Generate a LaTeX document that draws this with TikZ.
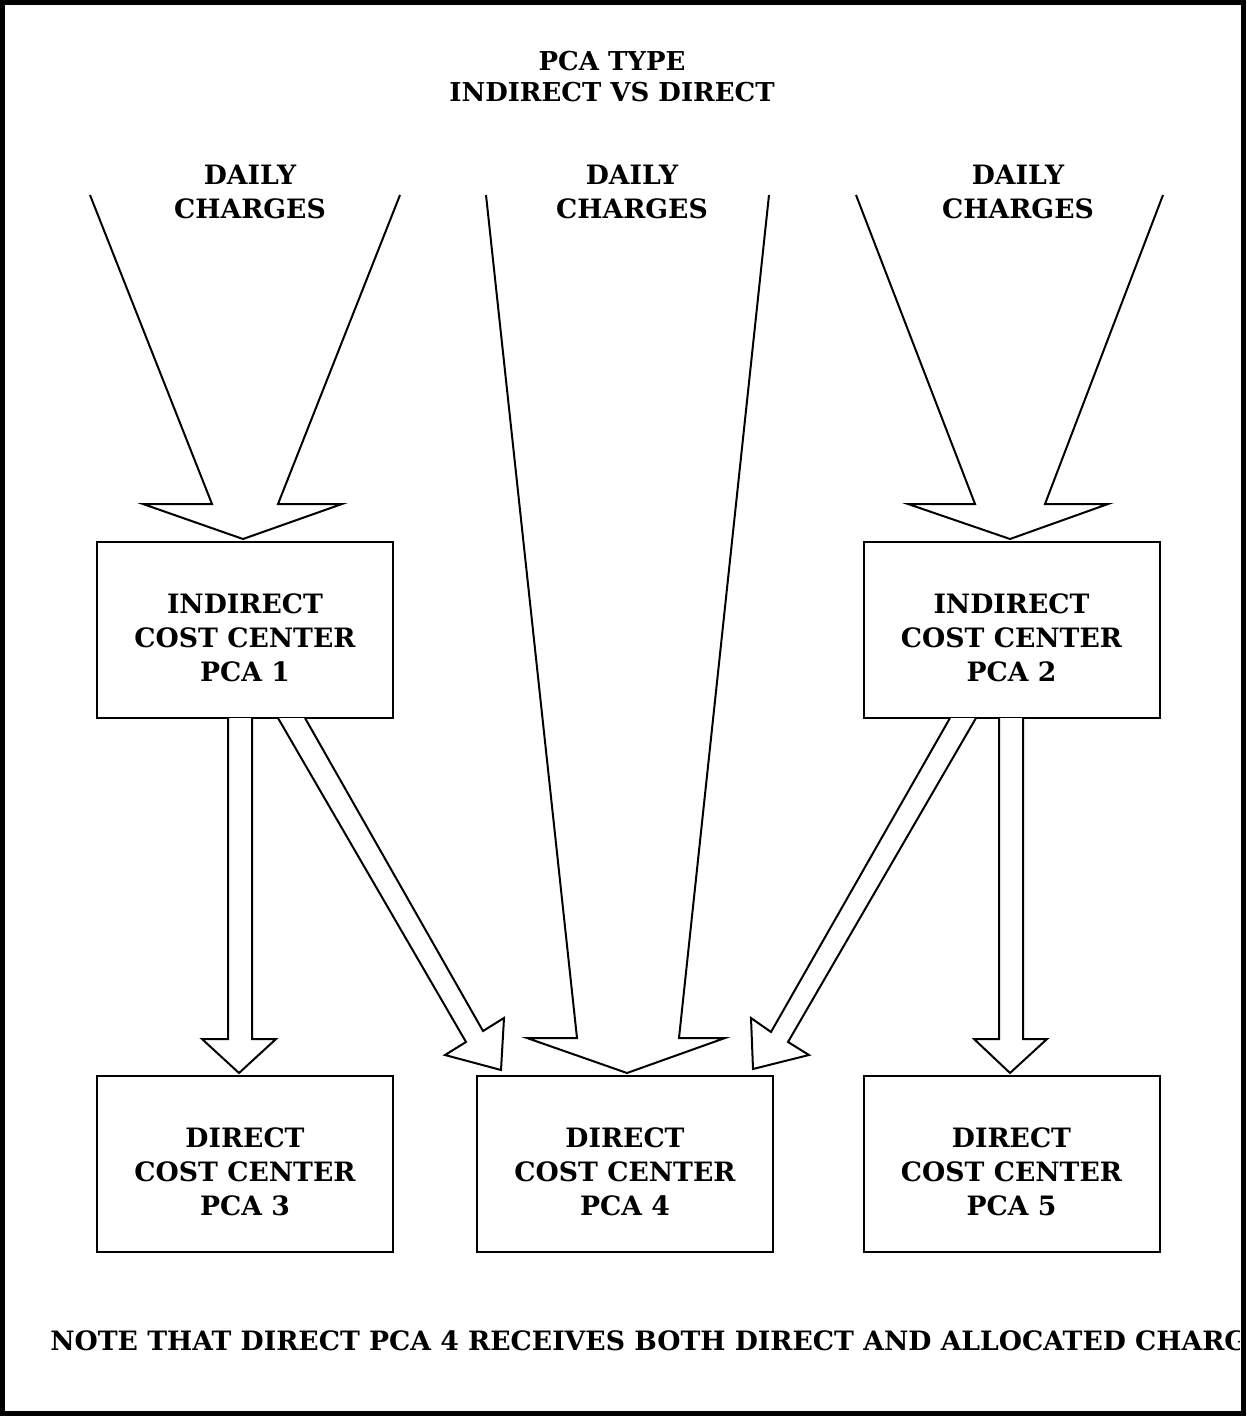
\documentclass[tikz,border=0pt]{standalone}
\usepackage{fontspec}
\setmainfont{DejaVu Serif}
\begin{document}
\begin{tikzpicture}[x=0.75pt,y=-0.75pt,
  label/.style={font=\fontsize{20}{25.5}\selectfont\bfseries,align=center,inner sep=0pt},
  ccbox/.style={draw,line width=1.5pt,minimum width=222pt,minimum height=132pt,inner sep=0pt},
  blockarrow/.style={draw,line width=1.5pt,fill=white,line join=miter}]
\useasboundingbox (0,0) rectangle (1246,1416);
% outer frame
\draw[line width=3.75pt] (2.5,2.5) rectangle (1243.5,1413.5);

% title
\node[label,font=\fontsize{19.5}{23.25}\selectfont\bfseries] (title) at (612,77) {PCA TYPE\\INDIRECT VS DIRECT};

% cost centre boxes
\node[ccbox] (pca1) at (245,630) {};
\node[ccbox] (pca2) at (1011.5,630) {};
\node[ccbox] (pca3) at (245,1164) {};
\node[ccbox] (pca4) at (625,1164) {};
\node[ccbox] (pca5) at (1011.5,1164) {};

\node[label] (t1) at (245,638) {INDIRECT\\COST CENTER\\PCA 1};
\node[label] (t2) at (1011.5,638) {INDIRECT\\COST CENTER\\PCA 2};
\node[label] (t3) at (245,1172) {DIRECT\\COST CENTER\\PCA 3};
\node[label] (t4) at (625,1172) {DIRECT\\COST CENTER\\PCA 4};
\node[label] (t5) at (1011.5,1172) {DIRECT\\COST CENTER\\PCA 5};

% daily charge inflows
\draw[blockarrow] (90,195) -- (212,504) -- (143,504) -- (243,539) -- (342,504) -- (278,504) -- (400,195);
\draw[blockarrow] (486,195) -- (577,1038) -- (527,1038) -- (627,1073) -- (725,1038) -- (679,1038) -- (769,195);
\draw[blockarrow] (856,195) -- (975,504) -- (908,504) -- (1010,539) -- (1108,504) -- (1045,504) -- (1163,195);

\node[label] (d1) at (250,192) {DAILY\\CHARGES};
\node[label] (d2) at (632,192) {DAILY\\CHARGES};
\node[label] (d3) at (1018,192) {DAILY\\CHARGES};

% allocations from the indirect centres
\draw[blockarrow] (228,718) -- (228,1039) -- (202,1039) -- (239,1073) -- (276,1039) -- (252,1039) -- (252,718);
\draw[blockarrow] (999,718) -- (999,1039) -- (974,1039) -- (1010,1073) -- (1047,1039) -- (1023,1039) -- (1023,718);
\draw[blockarrow] (278,718) -- (466,1042) -- (445,1055) -- (501,1070) -- (504,1018) -- (483,1031) -- (305,718);
\draw[blockarrow] (950,718) -- (771,1032) -- (751,1018) -- (753,1069) -- (809,1055) -- (788,1042) -- (976,718);

% footnote, cut off by the frame
\begin{scope}
\clip (5,1290) rectangle (1239,1400);
\node[label,anchor=west] (note) at (50,1341) {NOTE THAT DIRECT PCA 4 RECEIVES BOTH DIRECT AND ALLOCATED CHARGES};
\end{scope}
\end{tikzpicture}
\end{document}
